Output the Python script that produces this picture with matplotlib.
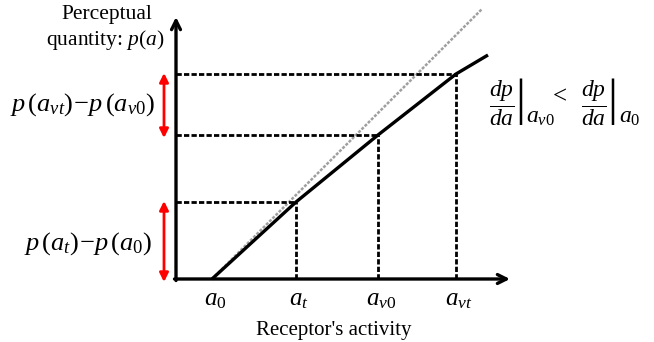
import matplotlib
matplotlib.use("Agg")
import matplotlib.pyplot as plt

plt.rcParams['mathtext.fontset'] = 'custom'
plt.rcParams['mathtext.rm'] = 'Liberation Serif'
plt.rcParams['mathtext.it'] = 'Liberation Serif:italic'
plt.rcParams['mathtext.bf'] = 'Liberation Serif:bold'
plt.rcParams['font.family'] = ['Liberation Serif', 'DejaVu Serif']

# Data (arbitrary units, origin at axes crossing)
activity_ticks = [36, 120, 202, 280]
tick_labels = [r'$a_0$', r'$a_t$', r'$a_{v0}$', r'$a_{vt}$']
curve_x = [36, 120, 202, 280, 312]
curve_y = [0, 77, 144, 205, 224]
tick_p = [0, 77, 144, 205]
identity_x = [36, 306]
identity_y = [0, 270]

fig = plt.figure(figsize=(6.54, 3.42), dpi=100)
ax = fig.add_axes([0, 0, 1, 1])
ax.set_xlim(-176, 478)
ax.set_ylim(-63, 279)
ax.axis('off')

# axes arrows
ax.annotate('', xy=(0, 262), xytext=(0, -1.5),
            arrowprops=dict(arrowstyle='->', lw=2.4, color='black', mutation_scale=16,
                            shrinkA=0, shrinkB=0))
ax.annotate('', xy=(334, 0), xytext=(-1.5, 0),
            arrowprops=dict(arrowstyle='->', lw=2.4, color='black', mutation_scale=16,
                            shrinkA=0, shrinkB=0))

# identity gray dotted line
ax.plot(identity_x, identity_y, color='#a0a0a0', lw=1.8, ls=(0, (1.2, 0.6)), zorder=2)

# curve
ax.plot(curve_x, curve_y, color='black', lw=2.4, zorder=3, solid_capstyle='butt',
        solid_joinstyle='round')

# dashed guide lines
for xv, yv in zip(activity_ticks[1:], tick_p[1:]):
    ax.plot([0, xv], [yv, yv], color='black', lw=2.0, ls=(0, (1.9, 0.8)), zorder=2)
    ax.plot([xv, xv], [0, yv], color='black', lw=2.0, ls=(0, (1.9, 0.8)), zorder=2)

# red double arrows
for y0, y1 in [(tick_p[0], tick_p[1]), (tick_p[2], tick_p[3])]:
    ax.annotate('', xy=(-12, y1 + 1), xytext=(-12, y0 - 3),
                arrowprops=dict(arrowstyle='<|-|>', lw=2.0, color='red', mutation_scale=13,
                                shrinkA=0, shrinkB=0))

# tick labels
for xv, lab in zip(activity_ticks, tick_labels):
    ax.text(xv + 3, -21, lab, fontsize=18, ha='center', va='center')

ax.text(158, -52, "Receptor's activity", fontsize=15, ha='center', va='center')
ax.text(-69, 264, "Perceptual", fontsize=15.5, ha='center', va='center')
ax.text(-71, 239, r"quantity: $p(a)$", fontsize=15.5, ha='center', va='center')

ax.text(-94, 174, r'$p\,(a_{vt})\!-\!p\,(a_{v0})$', fontsize=19, ha='center', va='center')
ax.text(-88, 35, r'$p\,(a_t)\!-\!p\,(a_0)$', fontsize=19, ha='center', va='center')

ax.text(313, 177, r'$\left.\dfrac{dp}{da}\right|$', fontsize=17, ha='left', va='center')
ax.text(350, 156, r'$a_{v0}$', fontsize=17, ha='left', va='baseline')
ax.text(384, 182, '<', fontsize=18, ha='center', va='center')
ax.text(405, 177, r'$\left.\dfrac{dp}{da}\right|$', fontsize=17, ha='left', va='center')
ax.text(443, 156, r'$a_0$', fontsize=17, ha='left', va='baseline')

fig.savefig('out.png', dpi=100)
